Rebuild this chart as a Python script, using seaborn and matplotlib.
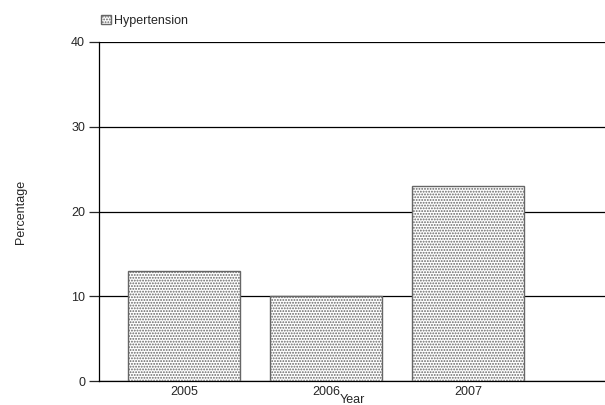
import matplotlib
matplotlib.use("Agg")
import matplotlib.pyplot as plt
import seaborn as sns
import pandas as pd

# values
years = ["2005", "2006", "2007"]
hypertension = [13, 10, 23]
y_ticks = [0, 10, 20, 30, 40]

df = pd.DataFrame({"Year": years, "Percentage": hypertension})

sns.set_style("white")
plt.rcParams["font.family"] = ["Liberation Sans", "DejaVu Sans"]
plt.rcParams["hatch.linewidth"] = 0.9
plt.rcParams["hatch.color"] = "black"

fig = plt.figure(figsize=(6.05, 4.05), dpi=100)
ax = fig.add_axes([99 / 605, 24 / 405, 1 - 99 / 605, 339 / 405])

sns.barplot(x="Year", y="Percentage", data=df, ax=ax, color="white",
            width=0.79, edgecolor="#666666", linewidth=1.0,
            label="Hypertension", zorder=3)
for p in ax.patches:
    p.set_hatch("......")

ax.set_xlim(-0.6, 2.965)
ax.set_ylim(0, 40)
ax.set_yticks(y_ticks)
ax.yaxis.grid(True, color="black", linewidth=0.9, zorder=0)
ax.set_axisbelow(True)

for s in ["top", "right"]:
    ax.spines[s].set_visible(False)
ax.spines["left"].set_color("black")
ax.spines["bottom"].set_color("black")
ax.spines["left"].set_linewidth(0.9)
ax.spines["bottom"].set_linewidth(0.9)

ax.tick_params(axis="y", left=True, length=7, width=0.9, labelsize=9, pad=3)
ax.tick_params(axis="x", bottom=False, labelsize=9, pad=0)

ax.set_xlabel("Year", fontsize=9, labelpad=-3)
ax.set_ylabel("Percentage", fontsize=9, labelpad=32)

leg = ax.legend(loc="lower left", bbox_to_anchor=(0.003, 1.045), frameon=False,
                fontsize=9, handlelength=0.8, handleheight=0.8,
                handletextpad=0.3, borderaxespad=0, borderpad=0)

fig.savefig("out.png", dpi=100)
